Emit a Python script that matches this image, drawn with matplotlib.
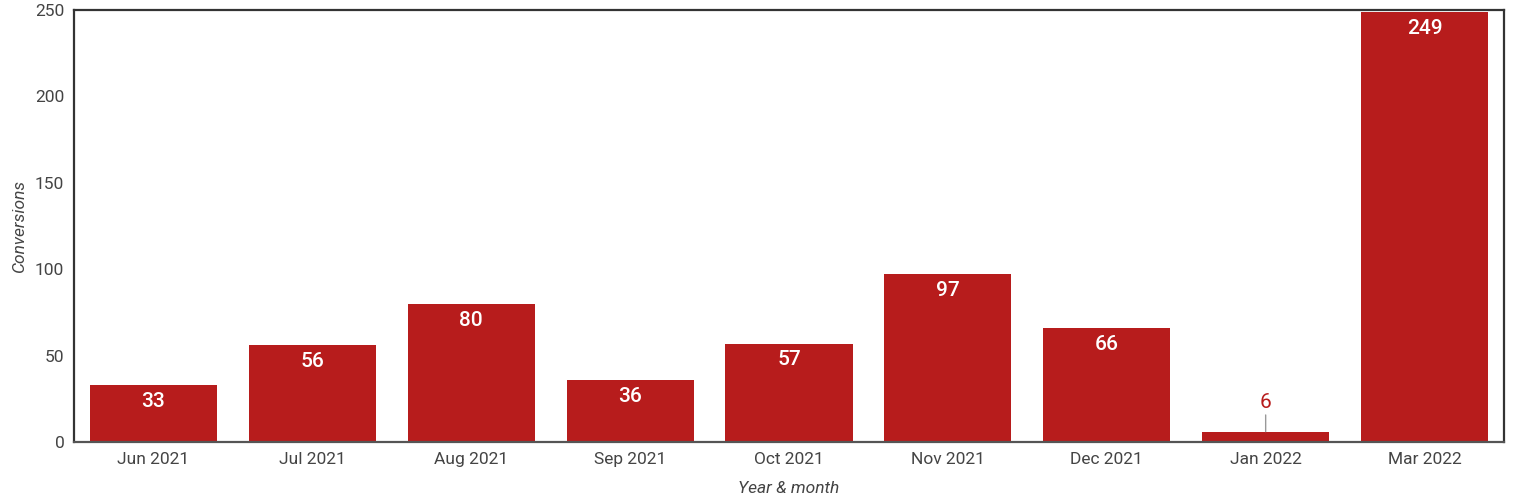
import matplotlib
matplotlib.use("Agg")
import matplotlib.pyplot as plt

categories = ["Jun 2021", "Jul 2021", "Aug 2021", "Sep 2021", "Oct 2021",
              "Nov 2021", "Dec 2021", "Jan 2022", "Mar 2022"]
conversions = [33, 56, 80, 36, 57, 97, 66, 6, 249]

plt.rcParams['font.family'] = ['Roboto', 'DejaVu Sans']
bar_color = "#B71C1C"
text_gray = "#444444"

fig = plt.figure(figsize=(15.37, 5.03), dpi=100)
ax = fig.add_axes([74/1537, 1 - 442/503, (1504-74)/1537, (442-10)/503])

x = list(range(len(categories)))
bars = ax.bar(x, conversions, width=0.8, color=bar_color, zorder=2)
ax.set_xlim(-0.5, len(categories) - 0.5)
ax.set_ylim(0, 250)
ax.set_yticks([0, 50, 100, 150, 200, 250])
ax.set_xticks(x)
ax.set_xticklabels(categories)
ax.tick_params(axis='both', length=0, labelsize=12.5, colors=text_gray, pad=7)
for s in ax.spines.values():
    s.set_color("#333333")
    s.set_linewidth(1.6)
ax.spines['bottom'].set_color("#555555")

ax.set_ylabel("Conversions", fontstyle='italic', fontsize=12.5, color=text_gray, labelpad=6)
ax.set_xlabel("Year & month", fontstyle='italic', fontsize=12.5, color=text_gray, labelpad=10)

for xi, v in zip(x, conversions):
    if v >= 20:
        ax.annotate(str(v), (xi, v), xytext=(0, -5), textcoords='offset points',
                    ha='center', va='top', color='white', fontsize=15,
                    fontweight='medium', zorder=3)
    else:
        ax.annotate(str(v), (xi, v), xytext=(0, 14), textcoords='offset points',
                    ha='center', va='bottom', color=bar_color, fontsize=15,
                    arrowprops=dict(arrowstyle='-', color='#999999', lw=1,
                                    shrinkA=0, shrinkB=0), zorder=3)

fig.savefig("out.png", dpi=100)
